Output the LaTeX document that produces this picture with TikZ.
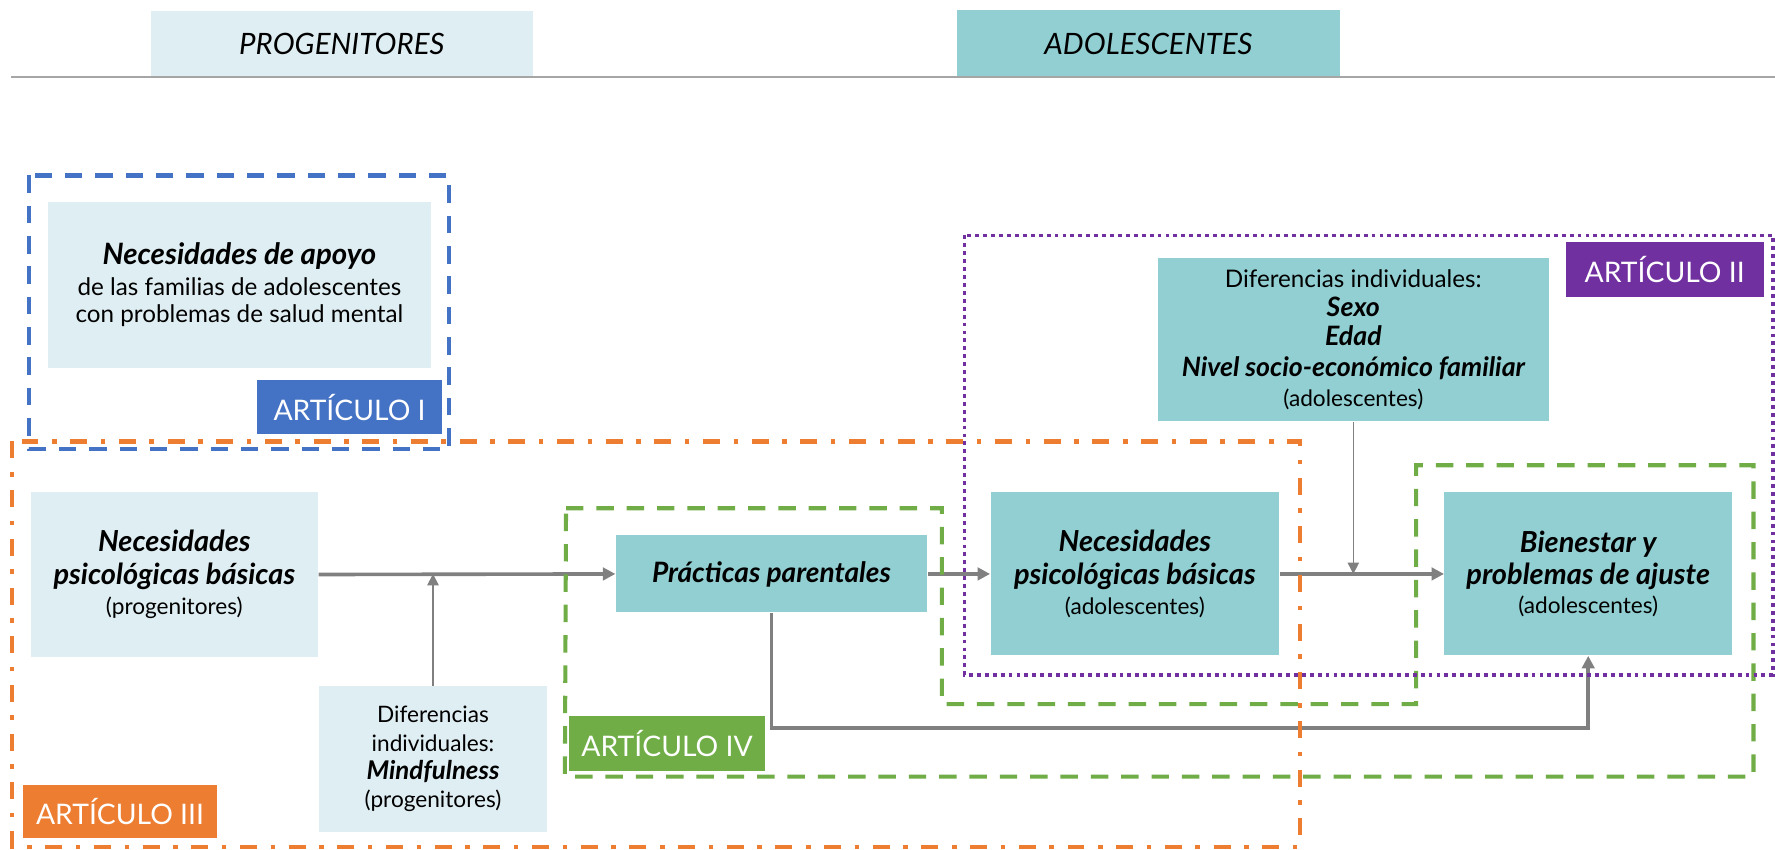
\documentclass[tikz,border=0pt]{standalone}
\usepackage{fontspec}
\setmainfont{Lato}
\usetikzlibrary{arrows.meta}
\definecolor{lblue}{HTML}{DFEEF3}
\definecolor{tealbox}{HTML}{92CFD2}
\definecolor{arrgray}{HTML}{808080}
\definecolor{cblue}{HTML}{4472C4}
\definecolor{corange}{HTML}{ED7D31}
\definecolor{cgreen}{HTML}{70AD47}
\definecolor{cpurple}{HTML}{7030A0}
\newcommand{\ttl}[2][12.8]{{\fontsize{#1}{14}\selectfont\bfseries\itshape #2}}
\newcommand{\txt}[1]{{\fontsize{10.7}{13}\selectfont #1}}
\begin{document}
\begin{tikzpicture}[x=0.5pt,y=-0.5pt,
  box/.style={inner sep=0pt, align=center, font=\fontsize{10}{13}\selectfont},
  lbox/.style={box, fill=lblue},
  tbox/.style={box, fill=tealbox},
  lab/.style={inner sep=0pt, text=white, font=\fontsize{12.5}{14}\selectfont},
  hdr/.style={inner sep=0pt, font=\fontsize{13}{15}\selectfont\itshape},
  bigarrow/.style={draw=arrgray, line width=1.6pt, -{Triangle[length=5.5pt,width=5.5pt]}},
  thinarrow/.style={draw=arrgray, line width=0.65pt, -{Triangle[length=5pt,width=5pt]}},
  bluedash/.style={draw=cblue, line width=1.8pt, dash pattern=on 7.7pt off 5.7pt},
  greendash/.style={draw=cgreen, line width=1.8pt, dash pattern=on 7.7pt off 5.7pt},
  orangedash/.style={draw=corange, line width=1.8pt, dash pattern=on 7.5pt off 6pt on 2pt off 6pt},
  purpledot/.style={draw=cpurple, line width=1.6pt, dash pattern=on 1.7pt off 1.8pt}
]
\useasboundingbox (0,0) rectangle (1568,750);

% header
\node[hdr, fill=lblue, minimum width=169pt, minimum height=29pt] (hprog) at (302,39) {PROGENITORES};
\node[hdr, fill=tealbox, minimum width=169.5pt, minimum height=29.5pt] (hadol) at (1014.5,38.5) {ADOLESCENTES};
\coordinate (hl1) at (10,68);
\coordinate (hl2) at (1568,68);
\draw[draw=black!35, line width=0.8pt] (hl1) -- (hl2);

% boxes
\node[lbox, minimum width=169.5pt, minimum height=73.5pt] (apoyo) at (211.5,251.5)
  {\ttl[13]{Necesidades de apoyo}\\[0.5pt] \txt{de las familias de adolescentes}\\[-1pt] \txt{con problemas de salud mental}};
\node[lbox, minimum width=127pt, minimum height=72.5pt] (npp) at (154,507.5)
  {\ttl{Necesidades}\\[1.5pt] \ttl{psicológicas básicas}\\[0.5pt] (progenitores)};
\node[lbox, minimum width=100.5pt, minimum height=64.5pt] (mind) at (382.5,670.5)
  {Diferencias\\[-0.5pt] individuales:\\[-0.5pt] \ttl[11.4]{Mindfulness}\\[-0.5pt] (progenitores)};
\node[tbox, minimum width=137.5pt, minimum height=34pt] (prac) at (681.5,507)
  {\ttl[12.4]{Prácticas parentales}};
\node[tbox, minimum width=127.5pt, minimum height=72pt] (npa) at (1002.5,507)
  {\ttl{Necesidades}\\[1.5pt] \ttl{psicológicas básicas}\\[0.5pt] (adolescentes)};
\node[tbox, minimum width=172.5pt, minimum height=72pt] (dif) at (1195.5,300)
  {\txt{Diferencias individuales:}\\ \ttl[11.8]{Sexo}\\[-0.5pt] \ttl[11.8]{Edad}\\[1pt] \ttl[11.8]{Nivel socio-económico familiar}\\[0pt] (adolescentes)};
\node[tbox, minimum width=127pt, minimum height=72pt] (bien) at (1403,507)
  {\ttl{Bienestar y}\\[1.2pt] \ttl{problemas de ajuste}\\[0pt] (adolescentes)};

% connectors
\coordinate (m1) at (382.5,507);
\coordinate (d1) at (1195.5,507);
\coordinate (e1) at (681.5,643);
\draw[bigarrow] (npp.east) -- (prac.west);
\draw[bigarrow] (prac.east) -- (npa.west);
\draw[bigarrow] (npa.east) -- (bien.west);
\draw[thinarrow] (mind.north) -- (m1);
\draw[thinarrow] (dif.south) -- (d1);
\draw[bigarrow] (prac.south) -- (e1) -| (bien.south);

% frames
\draw[bluedash] (26,155) rectangle (397,397);
\draw[orangedash] (11,390) rectangle (1148,748);
\draw[greendash] (500,449) -- (832,449) -- (832,622) -- (1251,622) -- (1251,411) -- (1549,411) -- (1549,686) -- (499,686) -- cycle;
\draw[purpledot] (852,208) rectangle (1566,596);

% labels
\node[lab, fill=cblue, minimum width=81.75pt, minimum height=23.85pt] (a1) at (308.75,359.85) {ARTÍCULO I};
\node[lab, fill=cpurple, minimum width=87.5pt, minimum height=24pt] (a2) at (1470.5,238) {ARTÍCULO II};
\node[lab, fill=corange, minimum width=86pt, minimum height=23.5pt] (a3) at (106,716.5) {ARTÍCULO III};
\node[lab, fill=cgreen, minimum width=86.25pt, minimum height=24.25pt] (a4) at (589.25,656.75) {ARTÍCULO IV};
\end{tikzpicture}
\end{document}
